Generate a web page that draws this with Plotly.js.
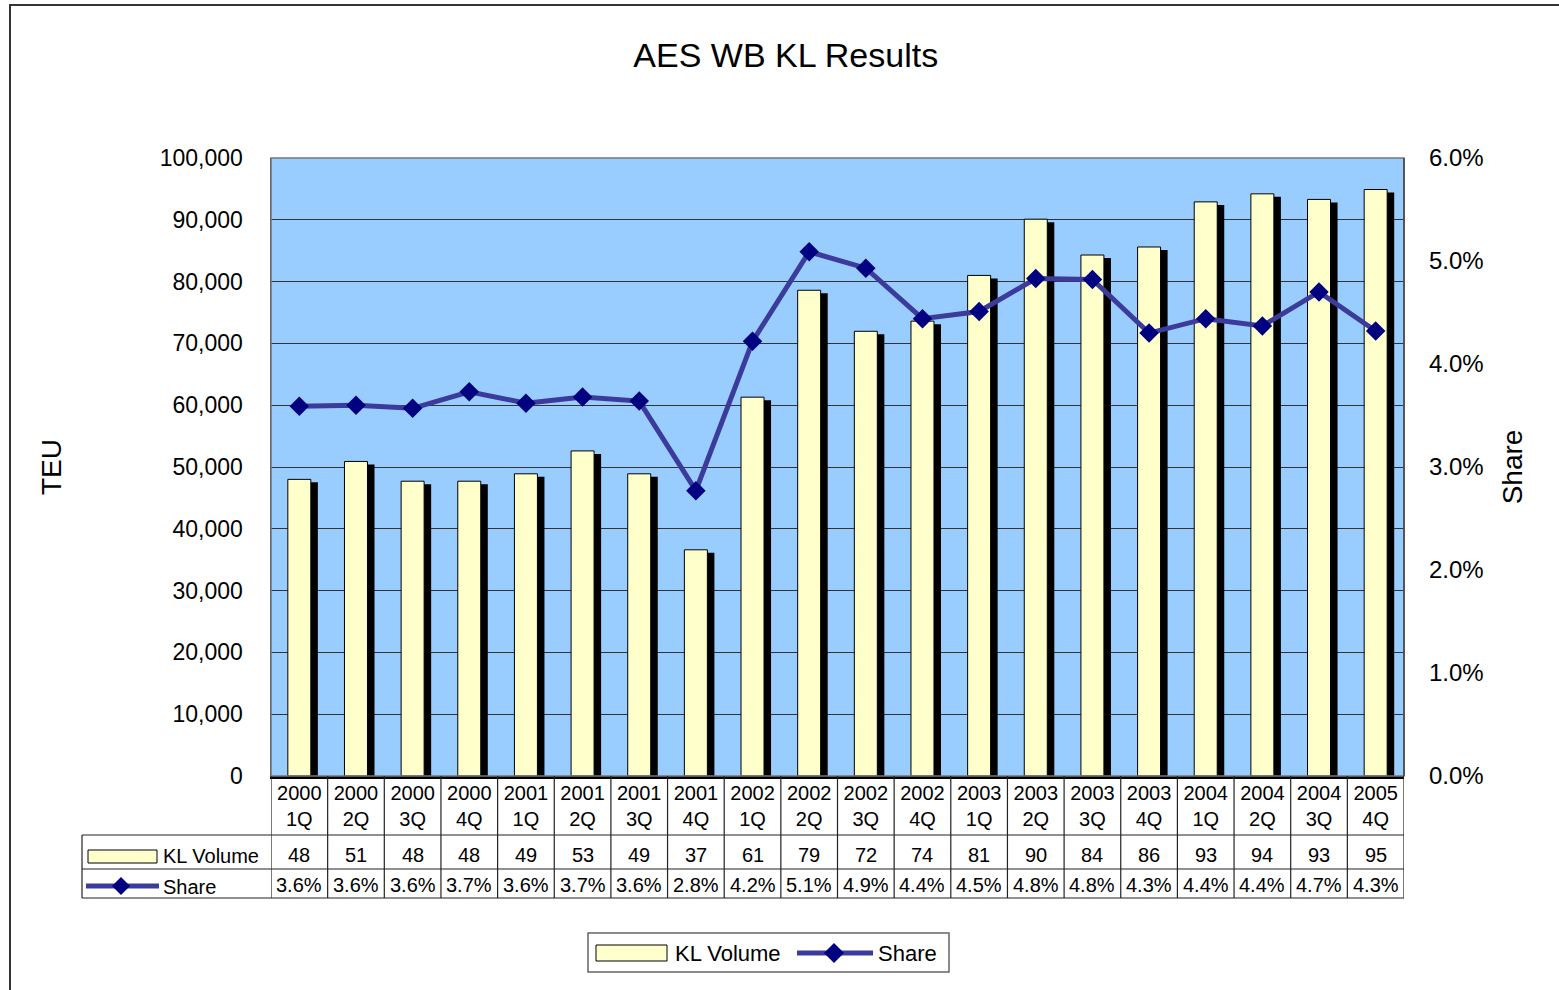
<!DOCTYPE html>
<html>
<head>
<meta charset="utf-8">
<script src="https://cdn.plot.ly/plotly-3.0.1.min.js"></script>
<style>
  body { margin: 0; background: #fff; }
  #chart { width: 1559px; height: 990px; }
</style>
</head>
<body>
<div id="chart"></div>
<script>
const years = ['2000','2000','2000','2000','2001','2001','2001','2001','2002','2002',
               '2002','2002','2003','2003','2003','2003','2004','2004','2004','2005'];
const quarters = ['1Q','2Q','3Q','4Q','1Q','2Q','3Q','4Q','1Q','2Q',
                  '3Q','4Q','1Q','2Q','3Q','4Q','1Q','2Q','3Q','4Q'];
const klVolume = [48000, 50900, 47700, 47700, 48900, 52600, 48900, 36600, 61300, 78600,
                  71960, 73600, 81000, 90100, 84300, 85600, 92900, 94200, 93300, 94900];
const share = [3.59, 3.60, 3.57, 3.73, 3.62, 3.68, 3.64, 2.77, 4.22, 5.09,
               4.93, 4.44, 4.51, 4.83, 4.82, 4.30, 4.44, 4.37, 4.70, 4.32];

const labels = years.map((y, i) => y + '<br>' + quarters[i]);

// plot area in pixels, used to place the table and legend drawings
const L = 271, R = 1404, T = 158, B = 776;
const px = x => (x - L) / (R - L);
const py = y => (B - y) / (B - T);

const font = 'Liberation Sans, Arial, sans-serif';
const lineColor = '#3b3b9b';
const markColor = '#000080';
const barColor = '#ffffcc';

const shadow = {
  type: 'bar', x: labels, y: klVolume, xaxis: 'x', yaxis: 'y',
  width: 0.406, offset: -0.079,
  marker: { color: '#000000', line: { width: 0 } },
  showlegend: false, hoverinfo: 'skip'
};
const bars = {
  type: 'bar', x: labels, y: klVolume, xaxis: 'x', yaxis: 'y2',
  width: 0.406, offset: -0.203,
  marker: { color: barColor, line: { color: '#000000', width: 1 } },
  name: 'KL Volume', showlegend: false
};
const line = {
  type: 'scatter', mode: 'lines+markers', x: labels, y: share, xaxis: 'x', yaxis: 'y3',
  line: { color: lineColor, width: 5 },
  marker: { symbol: 'diamond', size: 15, color: markColor },
  name: 'Share', showlegend: false
};

function diamond(cx, cy, r) {
  return 'M' + px(cx - r) + ',' + py(cy) + ' L' + px(cx) + ',' + py(cy - r) +
         ' L' + px(cx + r) + ',' + py(cy) + ' L' + px(cx) + ',' + py(cy + r) + ' Z';
}

const shapes = [];
const tl = { color: '#222', width: 1.2 };
// outer frame
shapes.push({ type: 'rect', xref: 'paper', yref: 'paper', x0: px(10), y0: py(5), x1: px(1580), y1: py(1010),
              line: { color: '#333', width: 2 } });
// plot border
shapes.push({ type: 'rect', xref: 'paper', yref: 'paper', x0: 0, y0: 0, x1: 1, y1: 1,
              line: { color: '#777', width: 1.5 }, layer: 'above' });
shapes.push({ type: 'line', xref: 'paper', yref: 'paper', x0: 1, y0: 0, x1: 1, y1: 1,
              line: { color: '#555', width: 2 }, layer: 'above' });
// table grid
[835, 869, 898].forEach(y => shapes.push({ type: 'line', xref: 'paper', yref: 'paper',
  x0: px(82), x1: 1, y0: py(y), y1: py(y), line: tl }));
shapes.push({ type: 'line', xref: 'paper', yref: 'paper', x0: px(82), x1: px(82), y0: py(835), y1: py(898), line: tl });
for (let i = 0; i <= labels.length; i++) {
  shapes.push({ type: 'line', xref: 'x', yref: 'paper', x0: i - 0.5, x1: i - 0.5,
                y0: py(776), y1: py(898), line: tl });
}
// table row keys
shapes.push({ type: 'rect', xref: 'paper', yref: 'paper', x0: px(88), x1: px(157), y0: py(850), y1: py(863),
              fillcolor: barColor, line: { color: '#000', width: 1 } });
shapes.push({ type: 'line', xref: 'paper', yref: 'paper', x0: px(86), x1: px(159), y0: py(886), y1: py(886),
              line: { color: lineColor, width: 5 } });
shapes.push({ type: 'path', xref: 'paper', yref: 'paper', path: diamond(121, 886, 9),
              fillcolor: markColor, line: { width: 0 } });
// legend
shapes.push({ type: 'rect', xref: 'paper', yref: 'paper', x0: px(588), x1: px(949), y0: py(933), y1: py(972),
              fillcolor: '#fff', line: { color: '#666', width: 1.5 } });
shapes.push({ type: 'rect', xref: 'paper', yref: 'paper', x0: px(596), x1: px(667), y0: py(945), y1: py(961),
              fillcolor: barColor, line: { color: '#000', width: 1 } });
shapes.push({ type: 'line', xref: 'paper', yref: 'paper', x0: px(797), x1: px(873), y0: py(953), y1: py(953),
              line: { color: lineColor, width: 5 } });
shapes.push({ type: 'path', xref: 'paper', yref: 'paper', path: diamond(834, 953, 10),
              fillcolor: markColor, line: { width: 0 } });

const annotations = [];
const tf = { family: font, size: 20, color: '#000' };
labels.forEach((c, i) => {
  annotations.push({ x: i, xref: 'x', y: py(855), yref: 'paper', text: String(Math.round(klVolume[i] / 1000)),
                     showarrow: false, font: tf, xanchor: 'center', yanchor: 'middle' });
  annotations.push({ x: i, xref: 'x', y: py(885), yref: 'paper', text: share[i].toFixed(1) + '%',
                     showarrow: false, font: tf, xanchor: 'center', yanchor: 'middle' });
});
annotations.push({ x: px(161), xref: 'paper', y: py(856), yref: 'paper', text: 'KL Volume',
                   showarrow: false, font: tf, xanchor: 'left', yanchor: 'middle' });
annotations.push({ x: px(161), xref: 'paper', y: py(887), yref: 'paper', text: 'Share',
                   showarrow: false, font: tf, xanchor: 'left', yanchor: 'middle' });
const lf = { family: font, size: 22, color: '#000' };
annotations.push({ x: px(673), xref: 'paper', y: py(953), yref: 'paper', text: 'KL Volume',
                   showarrow: false, font: lf, xanchor: 'left', yanchor: 'middle' });
annotations.push({ x: px(876), xref: 'paper', y: py(953), yref: 'paper', text: 'Share',
                   showarrow: false, font: lf, xanchor: 'left', yanchor: 'middle' });

const layout = {
  width: 1559, height: 990,
  margin: { l: L, r: 1559 - R, t: T, b: 990 - B },
  paper_bgcolor: '#fff',
  plot_bgcolor: '#99ccff',
  font: { family: font, color: '#000' },
  title: { text: 'AES WB KL Results', x: 0.504, xref: 'container', y: 1 - 55 / 990, yanchor: 'middle',
           font: { family: font, size: 34, color: '#000' } },
  showlegend: false,
  xaxis: {
    type: 'category', range: [-0.5, labels.length - 0.5],
    showline: true, linecolor: '#000', linewidth: 2.5, showgrid: false,
    ticks: '', tickfont: { size: 20, color: '#000' }, ticklabelstandoff: -3
  },
  yaxis: { range: [485, 100485], visible: false, fixedrange: true },
  yaxis2: {
    overlaying: 'y', side: 'left', range: [0, 100000], dtick: 10000,
    tickformat: ',d', tickfont: { size: 23, color: '#000' },
    ticks: 'inside', ticklen: 8, tickcolor: '#333', ticklabelstandoff: 22,
    showgrid: true, gridcolor: '#333', gridwidth: 1, zeroline: false,
    showline: true, linecolor: '#333', linewidth: 1.5,
    automargin: true,
    title: { text: 'TEU', font: { size: 28, color: '#000' }, standoff: 90 }
  },
  yaxis3: {
    overlaying: 'y', side: 'right', range: [0, 6], dtick: 1,
    tickformat: '.1f', ticksuffix: '%', tickfont: { size: 24, color: '#000' },
    ticks: '', ticklabelstandoff: 24, showgrid: false, zeroline: false,
    automargin: true,
    title: { text: 'Share', font: { size: 28, color: '#000' }, standoff: 19 }
  },
  shapes: shapes,
  annotations: annotations
};

Plotly.newPlot('chart', [shadow, bars, line], layout, { displayModeBar: false, staticPlot: true });
</script>
</body>
</html>
